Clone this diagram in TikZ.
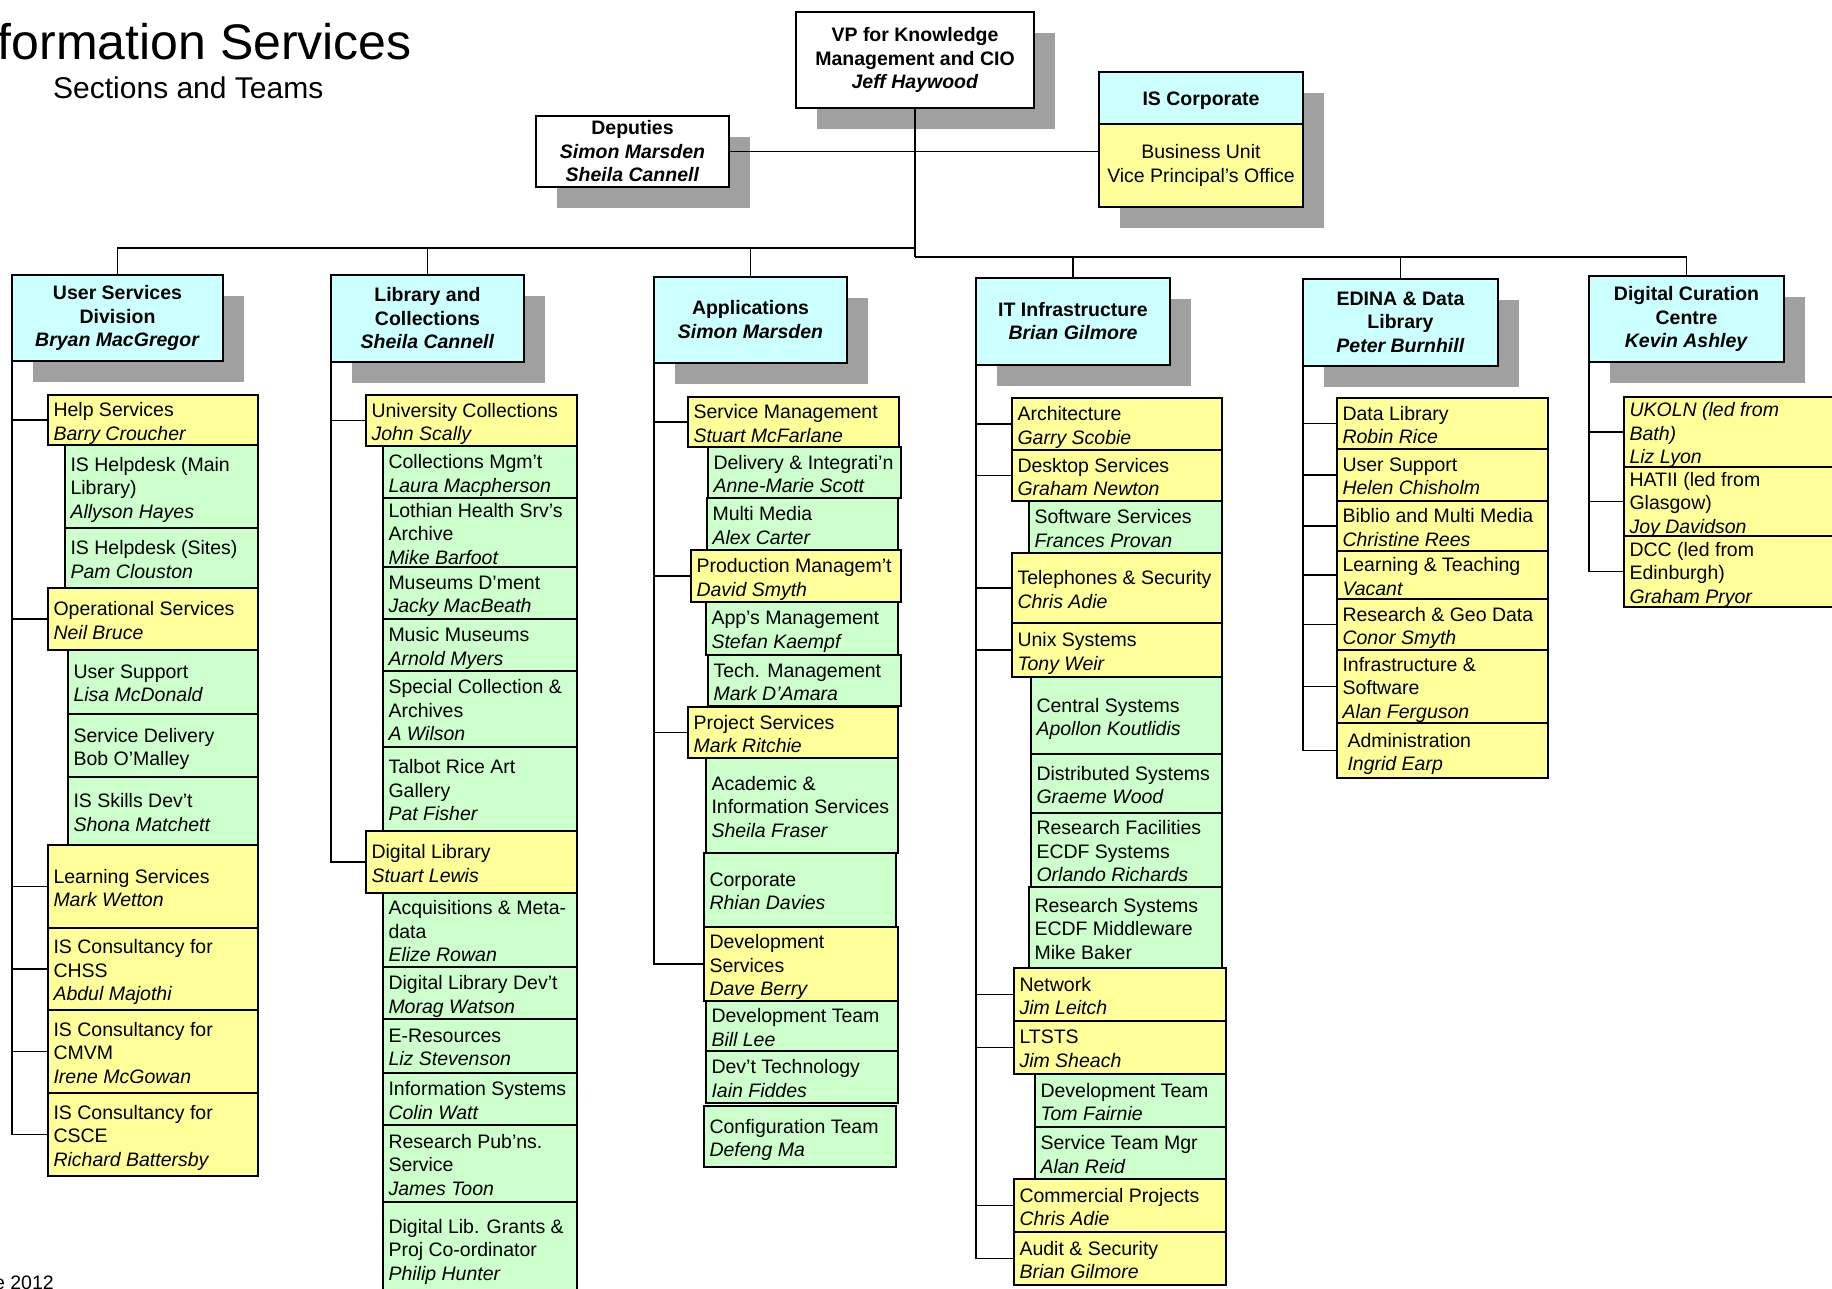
\documentclass[tikz,border=0pt]{standalone}
\usepackage{fontspec}
\setmainfont{Liberation Sans}
\usetikzlibrary{shadows}
\definecolor{cyn}{RGB}{204,255,255}
\definecolor{yelc}{RGB}{255,255,153}
\definecolor{grnc}{RGB}{204,255,204}
\definecolor{shgray}{RGB}{160,160,160}
\newcommand\itm[7]{%
 \node[ibox,#2,minimum width={(#5)-(#3)},minimum height={(#6)-(#4)},anchor=north west] (#1) at (#3,#4) {};
 \node[itext,anchor=west] (#1t) at ([xshift=5.5pt,yshift=-3.5pt]#1.west) {#7};}
\newcommand\dvn[6]{%
 \node[dbox,fill=cyn,minimum width={(#4)-(#2)},minimum height={(#5)-(#3)},anchor=north west] (#1) at (#2,#3) {#6};}
\tikzset{
 ibox/.style={draw=black, line width=1.3pt, inner sep=0pt, outer sep=0pt},
 yel/.style={fill=yelc},
 grn/.style={fill=grnc},
 itext/.style={inner sep=0pt, outer sep=0pt, align=left, font=\fontsize{19.5}{23.5}\selectfont,
   execute at begin node={\rule{0pt}{17.5pt}}, execute at end node={\rule[-4.5pt]{0pt}{4.5pt}}},
 dbox/.style={draw=black, line width=1.3pt, inner sep=0pt, outer sep=0pt, align=center,
   font=\fontsize{19.5}{23.5}\selectfont\bfseries,
   general shadow={fill=shgray, shadow xshift=21pt, shadow yshift=-21pt},
   execute at begin node={\rule{0pt}{19pt}}, execute at end node={\rule[-1pt]{0pt}{1pt}}},
 conn/.style={line width=1.5pt, black}
}
\begin{document}
\begin{tikzpicture}[x=1pt,y=-1pt]
\fill[white] (0,0) rectangle (1832,1289);
\useasboundingbox (0,0) rectangle (1832,1289);

% titles
\node[anchor=base east, inner sep=0pt, font=\fontsize{50}{60}\selectfont] (title) at (412,60) {formation Services};
\node[anchor=base west, inner sep=0pt, font=\fontsize{30}{36}\selectfont] (subtitle) at (53,99) {Sections and Teams};
\node[anchor=base east, inner sep=0pt, font=\fontsize{19.5}{23}\selectfont] (date) at (54,1289) {e 2012};

% top level
\node[dbox,fill=white,minimum width=238,minimum height=96,anchor=north west] (vp) at (796,12)
  {VP for Knowledge\\Management and CIO\\\textit{Jeff Haywood}};
\node[dbox,fill=white,minimum width=193,minimum height=71,anchor=north west] (dep) at (536,116)
  {Deputies\\\textit{Simon Marsden}\\\textit{Sheila Cannell}};
\node[dbox,fill=cyn,minimum width=204,minimum height=52,anchor=north west] (corp) at (1099,72) {IS Corporate};
\node[dbox,fill=yelc,minimum width=204,minimum height=83,anchor=north west,font=\fontsize{19.5}{23.3}\selectfont] (corpb) at (1099,124)
  {Business Unit\\Vice Principal's Office};

% divisions
\dvn{usd}{12}{275}{223}{361}{User Services\\Division\\\textit{Bryan MacGregor}}
\dvn{lib}{331}{275}{524}{362}{Library and\\Collections\\\textit{Sheila Cannell}}
\dvn{app}{654}{277}{847}{363}{Applications\\\textit{Simon Marsden}}
\dvn{itn}{976}{278}{1170}{365}{IT Infrastructure\\\textit{Brian Gilmore}}
\dvn{edi}{1303}{279}{1498}{366}{EDINA \& Data\\Library\\\textit{Peter Burnhill}}
\dvn{dcc}{1589}{276}{1784}{362}{Digital Curation\\Centre\\\textit{Kevin Ashley}}

% column 1
\itm{c1a}{yel}{48}{395}{258}{445}{Help Services\\\textit{Barry Croucher}}
\itm{c1b}{grn}{65}{445}{258}{528}{IS Helpdesk (Main\\Library)\\\textit{Allyson Hayes}}
\itm{c1c}{grn}{65}{528}{258}{588}{IS Helpdesk (Sites)\\\textit{Pam Clouston}}
\itm{c1d}{yel}{48}{588}{258}{650}{Operational Services\\\textit{Neil Bruce}}
\itm{c1e}{grn}{68}{650}{258}{714}{User Support\\\textit{Lisa McDonald}}
\itm{c1f}{grn}{68}{714}{258}{777}{Service Delivery\\Bob O'Malley}
\itm{c1g}{grn}{68}{777}{258}{845}{IS Skills Dev't\\\textit{Shona Matchett}}
\itm{c1h}{yel}{48}{845}{258}{928}{Learning Services\\\textit{Mark Wetton}}
\itm{c1i}{yel}{48}{928}{258}{1010}{IS Consultancy for\\CHSS\\\textit{Abdul Majothi}}
\itm{c1j}{yel}{48}{1010}{258}{1093}{IS Consultancy for\\CMVM\\\textit{Irene McGowan}}
\itm{c1k}{yel}{48}{1093}{258}{1176}{IS Consultancy for\\CSCE\\\textit{Richard Battersby}}

% column 2
\itm{c2a}{yel}{366}{395}{577}{446}{University Collections\\\textit{John Scally}}
\itm{c2b}{grn}{383}{446}{577}{498}{Collections Mgm't\\\textit{Laura Macpherson}}
\itm{c2c}{grn}{383}{498}{577}{567}{Lothian Health Srv's\\Archive\\\textit{Mike Barfoot}}
\itm{c2d}{grn}{383}{567}{577}{619}{Museums D'ment\\\textit{Jacky MacBeath}}
\itm{c2e}{grn}{383}{619}{577}{671}{Music Museums\\\textit{Arnold Myers}}
\itm{c2f}{grn}{383}{671}{577}{747}{Special Collection \&\\Archives\\\textit{A Wilson}}
\itm{c2g}{grn}{383}{747}{577}{831}{Talbot Rice Art\\Gallery\\\textit{Pat Fisher}}
\itm{c2h}{yel}{366}{831}{577}{893}{Digital Library\\\textit{Stuart Lewis}}
\itm{c2i}{grn}{383}{893}{577}{967}{Acquisitions \& Meta-\\data\\\textit{Elize Rowan}}
\itm{c2j}{grn}{383}{967}{577}{1019}{Digital Library Dev't\\\textit{Morag Watson}}
\itm{c2k}{grn}{383}{1019}{577}{1073}{E-Resources\\\textit{Liz Stevenson}}
\itm{c2l}{grn}{383}{1073}{577}{1125}{Information Systems\\\textit{Colin Watt}}
\itm{c2m}{grn}{383}{1125}{577}{1202}{Research Pub'ns.\\Service\\\textit{James Toon}}
\itm{c2n}{grn}{383}{1202}{577}{1295}{Digital Lib. Grants \&\\Proj Co-ordinator\\\textit{Philip Hunter}}

% column 3
\itm{c3a}{yel}{688}{397}{899}{447}{Service Management\\\textit{Stuart McFarlane}}
\itm{c3b}{grn}{708}{447}{901}{498}{Delivery \& Integrati'n\\\textit{Anne-Marie Scott}}
\itm{c3c}{grn}{707}{498}{898}{550}{Multi Media\\\textit{Alex Carter}}
\itm{c3d}{yel}{691}{550}{901}{602}{Production Managem't\\\textit{David Smyth}}
\itm{c3e}{grn}{706}{602}{898}{655}{App's Management\\\textit{Stefan Kaempf}}
\itm{c3f}{grn}{708}{655}{901}{706}{Tech. Management\\\textit{Mark D'Amara}}
\itm{c3g}{yel}{688}{707}{898}{758}{Project Services\\\textit{Mark Ritchie}}
\itm{c3h}{grn}{706}{758}{898}{853}{Academic \&\\Information Services\\\textit{Sheila Fraser}}
\itm{c3i}{grn}{704}{853}{896}{927}{Corporate\\\textit{Rhian Davies}}
\itm{c3j}{yel}{704}{927}{898}{1001}{Development\\Services\\\textit{Dave Berry}}
\itm{c3k}{grn}{706}{1001}{898}{1051}{Development Team\\\textit{Bill Lee}}
\itm{c3l}{grn}{706}{1051}{898}{1103}{Dev't Technology\\\textit{Iain Fiddes}}
\itm{c3m}{grn}{704}{1106}{896}{1167}{Configuration Team\\\textit{Defeng Ma}}

% column 4
\itm{c4a}{yel}{1012}{398}{1222}{450}{Architecture\\\textit{Garry Scobie}}
\itm{c4b}{yel}{1012}{450}{1222}{501}{Desktop Services\\\textit{Graham Newton}}
\itm{c4c}{grn}{1029}{501}{1222}{553}{Software Services\\\textit{Frances Provan}}
\itm{c4d}{yel}{1012}{553}{1222}{623}{Telephones \& Security\\\textit{Chris Adie}}
\itm{c4e}{yel}{1012}{623}{1222}{677}{Unix Systems\\\textit{Tony Weir}}
\itm{c4f}{grn}{1031}{677}{1222}{754}{Central Systems\\\textit{Apollon Koutlidis}}
\itm{c4g}{grn}{1031}{754}{1222}{813}{Distributed Systems\\\textit{Graeme Wood}}
\itm{c4h}{grn}{1031}{813}{1222}{887}{Research Facilities\\ECDF Systems\\\textit{Orlando Richards}}
\itm{c4i}{grn}{1029}{887}{1222}{968}{Research Systems\\ECDF Middleware\\Mike Baker}
\itm{c4j}{yel}{1014}{968}{1226}{1021}{Network\\\textit{Jim Leitch}}
\itm{c4k}{yel}{1014}{1021}{1226}{1074}{LTSTS\\\textit{Jim Sheach}}
\itm{c4l}{grn}{1035}{1074}{1226}{1127}{Development Team\\\textit{Tom Fairnie}}
\itm{c4m}{grn}{1035}{1127}{1226}{1179}{Service Team Mgr\\\textit{Alan Reid}}
\itm{c4n}{yel}{1014}{1179}{1226}{1232}{Commercial Projects\\\textit{Chris Adie}}
\itm{c4o}{yel}{1014}{1232}{1226}{1285}{Audit \& Security\\\textit{Brian Gilmore}}

% column 5
\itm{c5a}{yel}{1337}{398}{1548}{449}{Data Library\\\textit{Robin Rice}}
\itm{c5b}{yel}{1337}{449}{1548}{501}{User Support\\\textit{Helen Chisholm}}
\itm{c5c}{yel}{1337}{501}{1548}{551}{Biblio and Multi Media\\\textit{Christine Rees}}
\itm{c5d}{yel}{1337}{551}{1548}{599}{Learning \& Teaching\\\textit{Vacant}}
\itm{c5e}{yel}{1337}{599}{1548}{650}{Research \& Geo Data\\\textit{Conor Smyth}}
\itm{c5f}{yel}{1337}{650}{1548}{723}{Infrastructure \&\\Software\\\textit{Alan Ferguson}}
\itm{c5g}{yel}{1337}{723}{1548}{778}{\hspace{5pt}Administration\\\hspace{5pt}\textit{Ingrid Earp}}

% column 6
\itm{c6a}{yel}{1624}{397}{1840}{467}{\textit{UKOLN (led from}\\\textit{Bath)}\\\textit{Liz Lyon}}
\itm{c6b}{yel}{1624}{467}{1840}{536}{HATII (led from\\Glasgow)\\\textit{Joy Davidson}}
\itm{c6c}{yel}{1624}{536}{1840}{607}{DCC (led from\\Edinburgh)\\\textit{Graham Pryor}}

% top connectors
\coordinate (jl) at (vp.south |- 0,248);
\coordinate (jr) at (vp.south |- 0,257);
\draw[conn] (vp.south) -- (jr);
\draw[conn] (dep.east) -- (dep.east -| corpb.west);
\draw[conn] (usd.north) |- (jl);
\draw[conn] (lib.north) |- (jl);
\draw[conn] (app.north) |- (jl);
\draw[conn] (itn.north) |- (jr);
\draw[conn] (edi.north) |- (jr);
\draw[conn] (dcc.north) |- (jr);

% column connectors
\foreach \n in {c1a,c1d,c1h,c1i,c1j,c1k} \draw[conn] (usd.south west) |- (\n.west);
\foreach \n in {c2a,c2h} \draw[conn] (lib.south west) |- (\n.west);
\foreach \n in {c3a,c3d,c3g,c3j} \draw[conn] (app.south west) |- (\n.west);
\foreach \n in {c4a,c4b,c4d,c4e,c4j,c4k,c4n,c4o} \draw[conn] (itn.south west) |- (\n.west);
\foreach \n in {c5a,c5b,c5c,c5d,c5e,c5f,c5g} \draw[conn] (edi.south west) |- (\n.west);
\foreach \n in {c6a,c6b,c6c} \draw[conn] (dcc.south west) |- (\n.west);
\end{tikzpicture}
\end{document}
